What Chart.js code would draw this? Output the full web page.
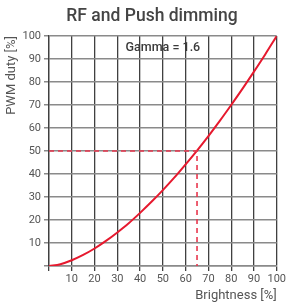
<!DOCTYPE html>
<html>
<head>
<meta charset="utf-8">
<script src="https://cdn.jsdelivr.net/npm/chart.js@4"></script>
<style>
html,body{margin:0;padding:0;background:#fff;}
#wrap{width:288px;height:304px;}
</style>
</head>
<body>
<div id="wrap"><canvas id="c" width="288" height="304"></canvas></div>
<script>
const chartTitle = "RF and Push dimming";
const annotationText = "Gamma = 1.6";
const xAxisTitle = "Brightness [%]";
const yAxisTitle = "PWM duty [%]";
const brightness = [0,5,10,15,20,25,30,35,40,45,50,55,60,65,70,75,80,85,90,95,100];
const pwmDuty = [0,0.8,2.5,4.8,7.6,10.9,14.6,18.6,23.1,27.9,33.0,38.4,44.2,50.2,56.5,63.1,70.0,77.1,84.5,92.1,100];
const markerX = [0,65,65];
const markerY = [50,50,0];
const tickValues = [0,10,20,30,40,50,60,70,80,90,100];

const curve = brightness.map((x,i)=>({x:x,y:pwmDuty[i]}));
const marker = markerX.map((x,i)=>({x:x,y:markerY[i]}));

const textPlugin = {
  id:'texts',
  afterDraw(chart){
    const ctx = chart.ctx;
    ctx.save();
    ctx.fillStyle = '#444';
    ctx.textAlign = 'center';
    ctx.textBaseline = 'middle';
    ctx.font = '500 17.5px Roboto';
    ctx.fillText(chartTitle, 152, 17);
    ctx.font = '500 12.5px Roboto';
    ctx.fillStyle = '#3a3a3a';
    const xs = chart.scales.x, ys = chart.scales.y;
    ctx.fillText(annotationText, xs.getPixelForValue(50), ys.getPixelForValue(95));
    ctx.restore();
  }
};

new Chart(document.getElementById('c'), {
  type:'line',
  data:{
    datasets:[
      {data:marker, borderColor:'#e8364e', borderWidth:1.6, borderDash:[5,4], pointRadius:0, fill:false, tension:0},
      {data:curve, borderColor:'#e6192e', borderWidth:2, pointRadius:0, fill:false, cubicInterpolationMode:'monotone'}
    ]
  },
  options:{
    responsive:false,
    animation:false,
    layout:{padding:{top:36,right:9,left:0,bottom:0}},
    plugins:{legend:{display:false}, tooltip:{enabled:false}, title:{display:false}},
    scales:{
      x:{
        type:'linear', min:0, max:100,
        afterBuildTicks(s){ s.ticks = tickValues.map(v=>({value:v})); },
        afterFit(s){ s.height = 38; },
        grid:{color:'#404040', lineWidth:1.3, tickLength:5, drawTicks:true},
        border:{color:'#8a8a8a', width:1.5},
        ticks:{padding:2, maxRotation:0, color:'#555', font:{family:'Roboto', size:11}, callback:v=> v===0?'':String(v)},
        title:{display:true, text:xAxisTitle, align:'end', color:'#555', font:{family:'Roboto', size:13}, padding:{top:0,bottom:0}}
      },
      y:{
        type:'linear', min:0, max:100,
        afterBuildTicks(s){ s.ticks = tickValues.map(v=>({value:v})); },
        afterFit(s){ s.width = 49; },
        grid:{color:'#8a8a8a', lineWidth:1.5, tickLength:5, drawTicks:true},
        border:{color:'#404040', width:1.3},
        ticks:{padding:3, color:'#555', font:{family:'Roboto', size:11}, callback:v=> v===0?'':String(v)},
        title:{display:true, text:yAxisTitle, align:'end', color:'#555', font:{family:'Roboto', size:13}, padding:{top:4,bottom:0}}
      }
    }
  },
  plugins:[textPlugin]
});
</script>
</body>
</html>
